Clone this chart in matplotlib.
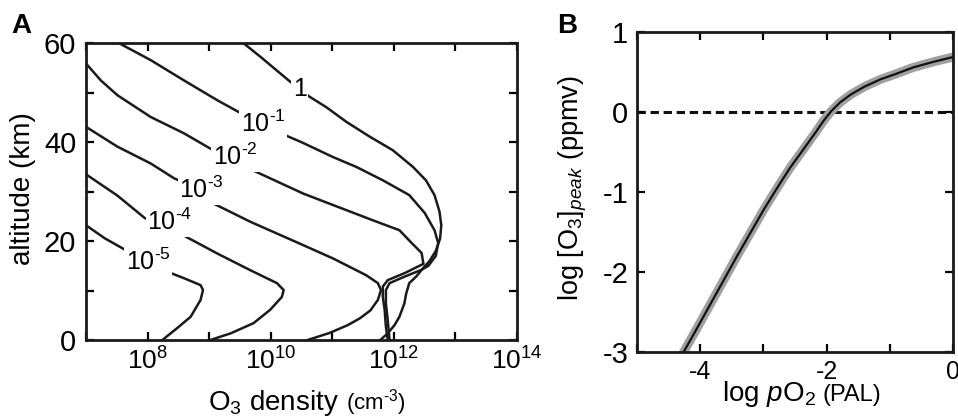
import numpy as np
import matplotlib.pyplot as plt
from matplotlib.ticker import NullLocator

plt.rcParams['font.family'] = ['Liberation Sans', 'DejaVu Sans']
plt.rcParams['mathtext.fontset'] = 'custom'
plt.rcParams['mathtext.rm'] = 'Liberation Sans'
plt.rcParams['mathtext.it'] = 'Liberation Sans:italic'
plt.rcParams['mathtext.default'] = 'regular'
plt.rcParams['axes.unicode_minus'] = False
plt.rcParams['lines.scale_dashes'] = False

HY = '\u2010'  # short hyphen as in the figure, not a math minus

# panel A: O3 profiles, log10 density (cm-3) vs altitude (km), one per pO2 (PAL)
logn_1 = [9.56, 9.83, 10.29, 10.63, 10.90, 11.23, 11.61, 11.98, 12.31, 12.52, 12.66, 12.74,
          12.77, 12.75, 12.68, 12.58, 12.48, 12.36, 12.25, 12.20, 12.17, 12.09, 12.01, 11.90, 11.78]
alt_1 = [60, 57.3, 52.5, 49.2, 47.1, 44.1, 41.1, 38.4, 35.0, 32.3, 29.3, 26.0,
         23.2, 20.5, 18.0, 16.0, 14.6, 12.8, 11.5, 9.4, 7.4, 4.7, 3.0, 1.35, 0]

logn_2 = [7.54, 8.05, 8.59, 9.13, 9.48, 9.88, 10.05, 10.50, 11.01, 11.39, 11.82, 12.25, 12.50,
          12.66, 12.72, 12.68, 12.56, 12.45, 12.17, 11.93, 11.87, 11.87, 11.90, 11.93]
alt_2 = [60, 56.6, 52.5, 48.5, 46.1, 43.8, 42.4, 40.0, 37.0, 35.0, 32.3, 29.3, 25.7,
         22.2, 19.6, 17.0, 15.0, 14.2, 12.8, 11.5, 10.1, 7.4, 4.0, 0]

logn_3 = [7.0, 7.24, 7.51, 8.05, 8.59, 9.02, 9.42, 9.59, 9.99, 10.53, 11.01, 11.66, 12.09,
          12.29, 12.45, 12.48, 12.17, 11.90, 11.82, 11.82, 11.85, 11.87, 11.90]
alt_3 = [55.9, 52.5, 49.5, 45.1, 41.8, 38.7, 37.0, 35.0, 32.7, 29.6, 27.3, 24.2, 22.2,
         19.6, 17.6, 15.4, 13.5, 12.1, 10.8, 8.7, 6.1, 2.7, 0]

logn_4 = [7.0, 7.51, 8.05, 8.43, 8.88, 9.02, 9.67, 10.47, 11.01, 11.55, 11.74, 11.79,
          11.74, 11.62, 11.45, 11.25, 10.95, 10.60]
alt_4 = [43.1, 39.1, 35.7, 32.7, 30.3, 27.9, 23.9, 19.5, 16.5, 13.1, 11.5, 10.1,
         8.1, 6.0, 4.4, 3.0, 1.4, 0]

logn_5 = [7.0, 7.51, 7.96, 8.36, 8.62, 9.13, 9.67, 10.10, 10.21, 10.18, 9.99, 9.72, 9.35, 9.02]
alt_5 = [33.5, 29.2, 24.6, 23.9, 20.9, 17.5, 14.1, 11.5, 10.1, 8.7, 6.1, 3.4, 1.35, 0]

logn_6 = [7.0, 7.30, 7.64, 8.01, 8.26, 8.59, 8.86, 8.90, 8.86, 8.70, 8.48, 8.24]
alt_6 = [23.2, 20.6, 18.2, 15.8, 14.1, 12.5, 11.1, 10.1, 8.1, 4.7, 2.4, 0]

profiles = [(logn_1, alt_1), (logn_2, alt_2), (logn_3, alt_3),
            (logn_4, alt_4), (logn_5, alt_5), (logn_6, alt_6)]
pal_labels = ['1'] + ['10$^{' + HY + str(k) + '}$' for k in range(1, 6)]
label_logn = [10.47, 9.88, 9.42, 8.88, 8.36, 8.01]
label_alt = [50.8, 43.8, 37.0, 30.3, 23.9, 15.8]

# panel B: peak O3 mixing ratio vs pO2
log_po2 = [-4.27, -4.05, -3.84, -3.63, -3.42, -3.21, -3.00, -2.79, -2.58, -2.37, -2.18,
           -2.05, -1.93, -1.79, -1.62, -1.40, -1.15, -0.90, -0.63, -0.31, 0.0]
log_o3 = [-3.02, -2.71, -2.41, -2.11, -1.81, -1.52, -1.23, -0.96, -0.70, -0.47, -0.26,
          -0.11, 0.01, 0.12, 0.22, 0.32, 0.41, 0.48, 0.56, 0.63, 0.69]

fig = plt.figure(figsize=(9.58, 4.2), dpi=100)

axA = fig.add_axes([0.0898, 0.1905, 0.4499, 0.7064])
for (lx, al) in profiles:
    axA.plot(10 ** np.array(lx), al, color='#1a1a1a', lw=1.8, zorder=2)
for lab, lx, ly in zip(pal_labels, label_logn, label_alt):
    axA.text(10 ** lx, ly, lab, ha='center', va='center', fontsize=18, zorder=3,
             bbox=dict(boxstyle='square,pad=0.06', fc='white', ec='none'))
axA.set_xscale('log')
axA.set_xlim(1e7, 1e14)
axA.set_ylim(0, 60)
axA.set_xticks([10.0 ** k for k in range(7, 15)],
               ['', '10$^{8}$', '', '10$^{10}$', '', '10$^{12}$', '', '10$^{14}$'])
axA.xaxis.set_minor_locator(NullLocator())
axA.set_yticks(range(0, 61, 10), ['0', '', '20', '', '40', '', '60'])
axA.tick_params(axis='y', labelsize=21, pad=7)
axA.tick_params(axis='x', labelsize=19, pad=5)

axB = fig.add_axes([0.6646, 0.1626, 0.3305, 0.7607])
axB.plot(log_po2, log_o3, color='#a0a0a0', lw=6.5, solid_capstyle='butt',
         solid_joinstyle='round', zorder=2)
axB.plot(log_po2, log_o3, color='#111111', lw=1.6, solid_joinstyle='round', zorder=3)
axB.axhline(0, color='#111111', lw=2.2, dashes=(6, 3.4), zorder=1)
axB.set_xlim(-5, 0)
axB.set_ylim(-3, 1)
axB.set_xticks(range(-5, 1), ['', '-4', '', '-2', '', '0'])
axB.set_yticks(range(-3, 2), ['-3', '-2', '-1', '0', '1'])
axB.tick_params(axis='y', labelsize=21, pad=6)
axB.tick_params(axis='x', labelsize=18, pad=6)

for ax in (axA, axB):
    ax.tick_params(which='both', direction='in', length=6, width=1.6, top=True, right=True)
    for s in ax.spines.values():
        s.set_linewidth(2.0)
        s.set_color('#1a1a1a')

# axis labels (main part and smaller unit part side by side)
fig.text(0.024, 0.552, 'altitude (km)', rotation=90, ha='center', va='center', fontsize=20)
fig.text(0.354, 0.025, 'O$_3$ density', ha='right', va='baseline', fontsize=20)
fig.text(0.361, 0.025, '(cm$^{' + HY + '3}$)', ha='left', va='baseline', fontsize=16)
fig.text(0.598, 0.552, r'log [O$_3$]$_{\mathit{peak}}$ (ppmv)', rotation=90,
         ha='center', va='center', fontsize=19.5)
fig.text(0.852, 0.045, r'log $\mathit{p}$O$_2$', ha='right', va='baseline', fontsize=20)
fig.text(0.859, 0.045, '(PAL)', ha='left', va='baseline', fontsize=17)

fig.text(0.012, 0.921, 'A', fontsize=20, fontweight='bold', va='baseline')
fig.text(0.582, 0.921, 'B', fontsize=20, fontweight='bold', va='baseline')

fig.savefig('out.png', dpi=100)
